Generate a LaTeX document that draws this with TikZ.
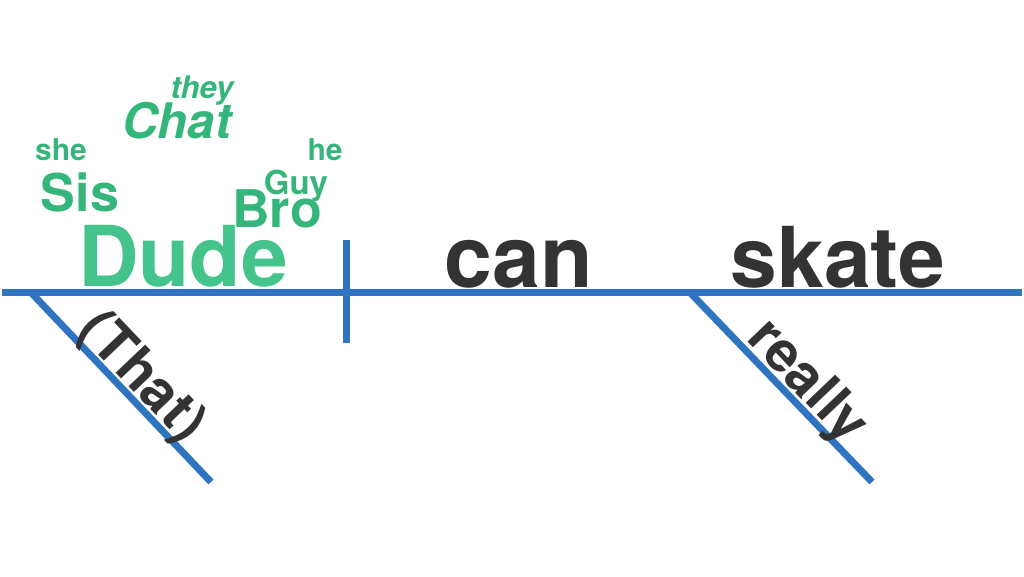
\documentclass[tikz,border=0pt]{standalone}
\usepackage{fontspec}
\setmainfont{TeX Gyre Heros}
\definecolor{lineblue}{RGB}{47,116,192}
\definecolor{dudegreen}{RGB}{68,196,138}
\definecolor{altgreen}{RGB}{52,182,122}
\definecolor{darktext}{RGB}{51,51,51}
\tikzset{
  diag/.style={draw=lineblue, line width=7pt},
  word/.style={inner sep=0pt, outer sep=0pt, text=darktext, font=\bfseries},
  alt/.style={inner sep=0pt, outer sep=0pt, text=altgreen, font=\bfseries},
}
\newcommand{\fsz}[1]{\fontsize{#1}{#1}\selectfont}
\begin{document}
\begin{tikzpicture}[x=1pt,y=-1pt]
\useasboundingbox (0,0) rectangle (1024,576);
\coordinate (L) at (2,292.5);
\coordinate (R) at (1022,292.5);
\coordinate (vt) at (346,240);
\coordinate (vb) at (346,343);
\coordinate (d1s) at (31,292.5);
\coordinate (d1e) at (211,482);
\coordinate (d2s) at (690,292.5);
\coordinate (d2e) at (872,482);
\draw[diag] (L) -- (R);
\draw[diag] (vt) -- (vb);
\draw[diag] (d1s) -- (d1e);
\draw[diag] (d2s) -- (d2e);
% main words
\node[word, anchor=base, text=dudegreen] (dude) at (183,286) {\fsz{84}Dude};
\node[word, anchor=base] (can) at (519,287) {\fsz{86}can};
\node[word, anchor=base] (skate) at (838,287) {\fsz{84}skate};
% modifiers
\node[word, rotate=-46.4] (that) at (141,378) {\fsz{56}(That)};
\node[word, rotate=-46.4] (really) at (806,383) {\fsz{56}really};
% alternatives
\node[alt, anchor=base] (she) at (61,160) {\fsz{30}she};
\node[alt, anchor=base] (sis) at (80,211) {\fsz{52}Sis};
\node[alt, anchor=base] (chat) at (177,138) {\fsz{49}\itshape Chat};
\node[alt, anchor=base] (they) at (202,98) {\fsz{31}\itshape they};
\node[alt, anchor=base] (he) at (325,160) {\fsz{30}he};
\node[alt, anchor=base] (guy) at (296,194) {\fsz{33}Guy};
\node[alt, anchor=base] (bro) at (277,227) {\fsz{52}Bro};
\end{tikzpicture}
\end{document}
